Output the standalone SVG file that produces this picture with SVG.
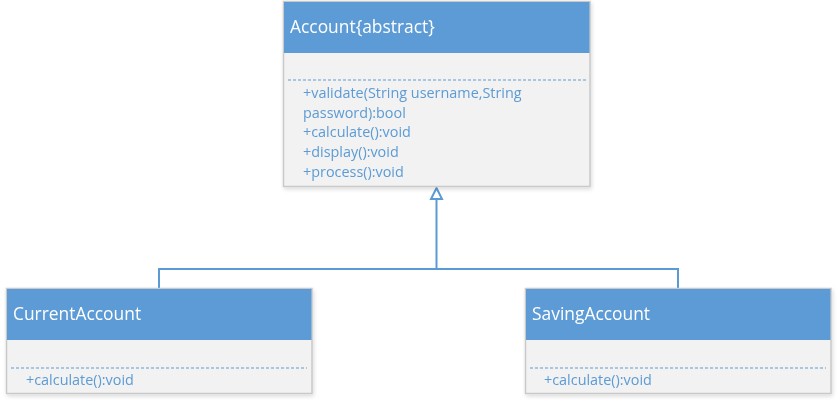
<svg xmlns="http://www.w3.org/2000/svg" width="838" height="404" viewBox="0 0 838 404">
<style>
.hdr{fill:#5B9BD5;}
.body{fill:#F2F2F2;stroke:#C9C9C9;stroke-width:1.5;}
.title{font-family:"Open Sans","Liberation Sans",sans-serif;font-size:17.4px;fill:#FFFFFF;}
.mem{font-family:"Open Sans","Liberation Sans",sans-serif;font-size:14.4px;fill:#5B9BD5;}
.dash{stroke:#5B9BD5;stroke-width:1;stroke-dasharray:3,2;fill:none;}
.conn{stroke:#5B9BD5;stroke-width:2;fill:none;}
</style>
<defs>
<filter id="sh" x="-5%" y="-5%" width="110%" height="115%">
<feGaussianBlur in="SourceAlpha" stdDeviation="2"/>
<feOffset dx="1" dy="2"/>
<feComponentTransfer><feFuncA type="linear" slope="0.15"/></feComponentTransfer>
<feMerge><feMergeNode/><feMergeNode in="SourceGraphic"/></feMerge>
</filter>
</defs>
<rect width="838" height="404" fill="#FFFFFF"/>
<g id="connectors">
<polyline class="conn" points="159,288 159,269 678,269 678,288"/>
<line class="conn" x1="436.5" y1="269" x2="436.5" y2="199"/>
<polygon points="436.5,188 442,199 431,199" fill="#FFFFFF" stroke="#5B9BD5" stroke-width="2"/>
</g>
<g id="account" filter="url(#sh)">
<rect class="body" x="283.5" y="1.5" width="306.5" height="185"/>
<rect class="hdr" x="284" y="2" width="305.5" height="51"/>
<text class="title" x="290" y="33">Account{abstract}</text>
<line class="dash" x1="288" y1="80" x2="586" y2="80"/>
<text class="mem" x="303" y="98">+validate(String username,String</text>
<text class="mem" x="303" y="117.5">password):bool</text>
<text class="mem" x="303" y="137">+calculate():void</text>
<text class="mem" x="303" y="157">+display():void</text>
<text class="mem" x="303" y="176.5">+process():void</text>
</g>
<g id="currentAccount" filter="url(#sh)">
<rect class="body" x="6.5" y="288.5" width="305.5" height="105"/>
<rect class="hdr" x="7" y="289" width="304.5" height="51"/>
<text class="title" x="13" y="320">CurrentAccount</text>
<line class="dash" x1="11" y1="368" x2="307" y2="368"/>
<text class="mem" x="26" y="384.5">+calculate():void</text>
</g>
<g id="savingAccount" filter="url(#sh)">
<rect class="body" x="525.5" y="288.5" width="305.5" height="105"/>
<rect class="hdr" x="526" y="289" width="304.5" height="51"/>
<text class="title" x="532" y="320">SavingAccount</text>
<line class="dash" x1="530" y1="368" x2="826" y2="368"/>
<text class="mem" x="544" y="384.5">+calculate():void</text>
</g>
</svg>
